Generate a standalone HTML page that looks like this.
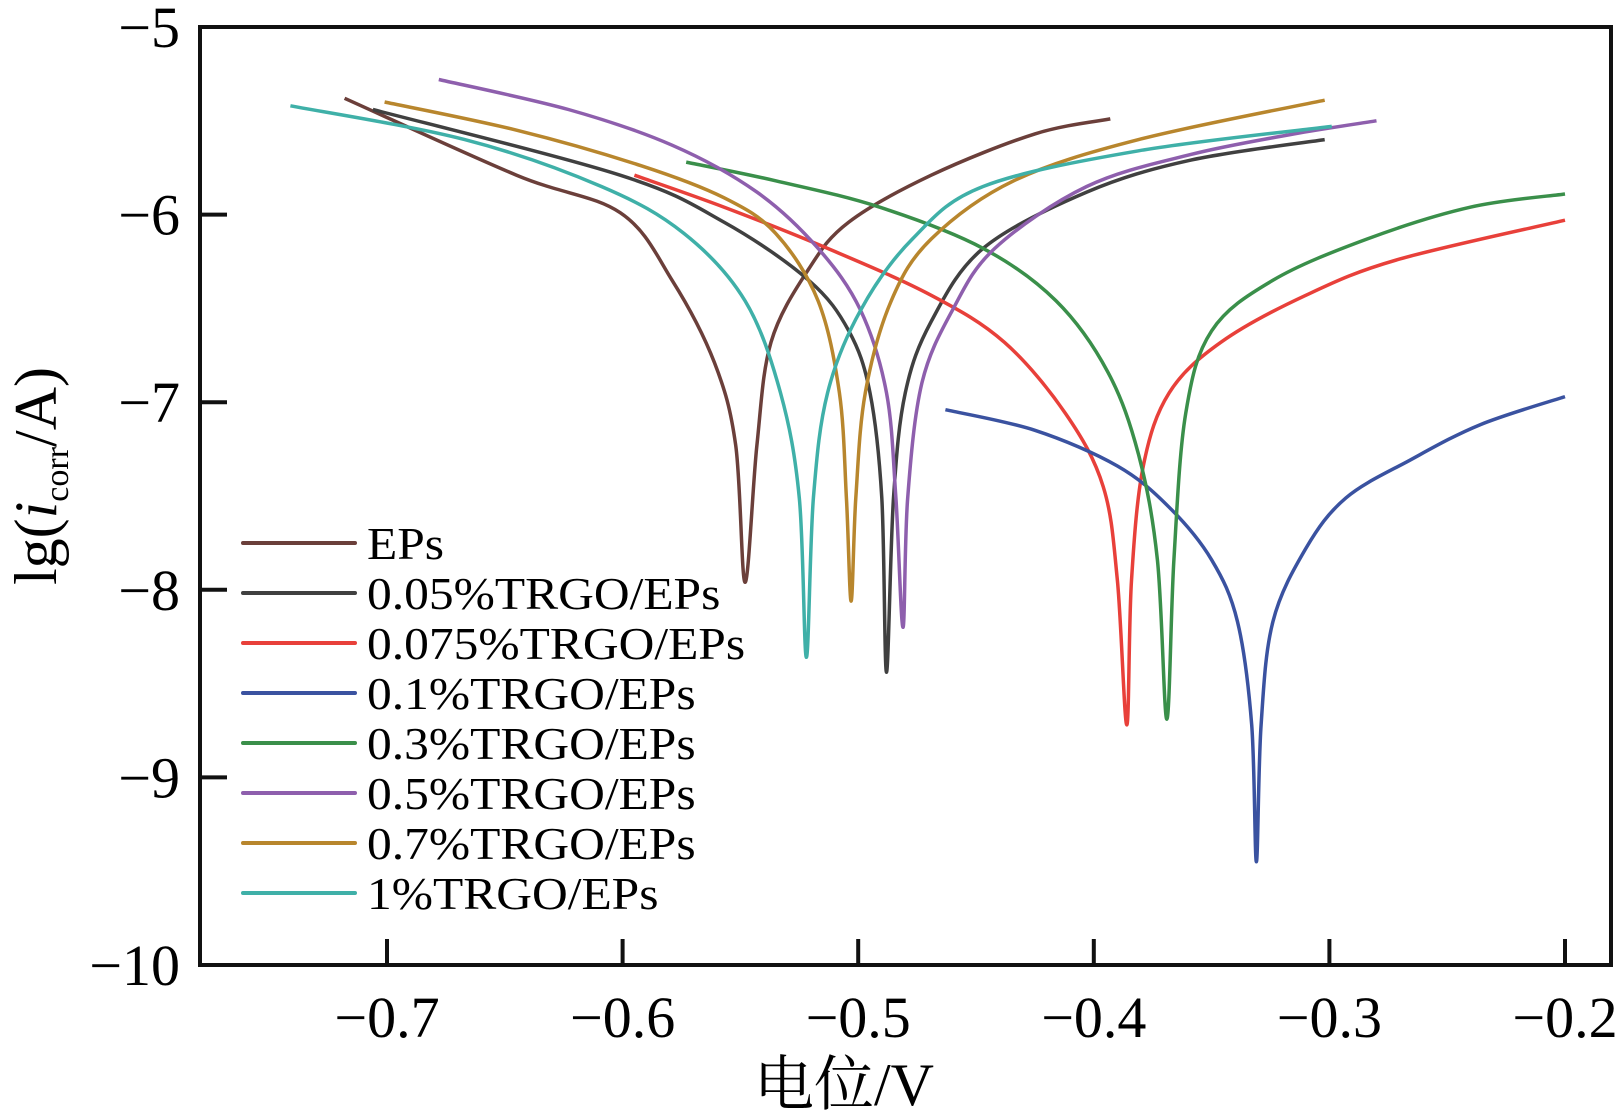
<!DOCTYPE html>
<html><head><meta charset="utf-8"><style>
body{margin:0;background:#fff}
svg{display:block;font-family:"Liberation Serif","Noto Serif CJK SC",serif}
</style></head><body>
<svg id="chart" width="1624" height="1115" viewBox="0 0 1624 1115">
<g id="curves"></g>
<rect x="200" y="27" width="1411" height="938" fill="none" stroke="#111" stroke-width="4"/>
<g id="axes"></g>
<text x="844" y="1105" font-size="60" text-anchor="middle">电位/V</text>
<text transform="translate(56,476) rotate(-90)" font-size="60" text-anchor="middle">lg(<tspan font-style="italic">i</tspan><tspan font-size="34" dy="12">corr</tspan><tspan dy="-12">/A)</tspan></text>
<g id="legend"></g>
</svg>
<script>
const xTicks=[-0.7,-0.6,-0.5,-0.4,-0.3,-0.2];
const yTicks=[-5,-6,-7,-8,-9,-10];
const seriesNames=["EPs","0.05%TRGO/EPs","0.075%TRGO/EPs","0.1%TRGO/EPs","0.3%TRGO/EPs","0.5%TRGO/EPs","0.7%TRGO/EPs","1%TRGO/EPs"];
const seriesColors=["#6b3f3a","#404040","#e8403a","#3a52a0","#3a8f4a","#8e5fad","#b8862d","#3fb0a8"];
const epsE=[-0.718,-0.645,-0.601,-0.579,-0.561,-0.552,-0.548,-0.543,-0.537,-0.521,-0.504,-0.469,-0.425,-0.393];
const epsL=[-5.38,-5.79,-5.99,-6.35,-6.79,-7.23,-7.96,-7.23,-6.68,-6.29,-6.04,-5.79,-5.57,-5.49];
const s005E=[-0.706,-0.601,-0.557,-0.521,-0.504,-0.495,-0.490,-0.488,-0.485,-0.480,-0.469,-0.447,-0.403,-0.359,-0.302];
const s005L=[-5.44,-5.79,-6.04,-6.35,-6.62,-6.95,-7.51,-8.44,-7.51,-6.95,-6.57,-6.18,-5.88,-5.71,-5.60];
const s0075E=[-0.595,-0.557,-0.513,-0.469,-0.438,-0.412,-0.396,-0.390,-0.386,-0.384,-0.379,-0.368,-0.346,-0.310,-0.271,-0.200];
const s0075L=[-5.79,-5.96,-6.18,-6.43,-6.68,-7.06,-7.45,-7.95,-8.72,-7.95,-7.34,-6.95,-6.68,-6.43,-6.24,-6.03];
const s01E=[-0.463,-0.425,-0.390,-0.368,-0.350,-0.339,-0.333,-0.331,-0.329,-0.324,-0.310,-0.293,-0.266,-0.236,-0.200];
const s01L=[-7.04,-7.15,-7.34,-7.56,-7.84,-8.17,-8.72,-9.45,-8.72,-8.17,-7.78,-7.51,-7.31,-7.12,-6.97];
const s03E=[-0.573,-0.535,-0.491,-0.447,-0.416,-0.394,-0.381,-0.373,-0.369,-0.366,-0.361,-0.350,-0.324,-0.284,-0.240,-0.200];
const s03L=[-5.72,-5.82,-5.96,-6.18,-6.46,-6.84,-7.28,-7.84,-8.69,-7.84,-7.06,-6.62,-6.35,-6.13,-5.96,-5.89];
const s05E=[-0.678,-0.623,-0.579,-0.543,-0.517,-0.499,-0.488,-0.484,-0.481,-0.479,-0.473,-0.460,-0.442,-0.403,-0.359,-0.315,-0.280];
const s05L=[-5.28,-5.44,-5.63,-5.88,-6.18,-6.51,-6.95,-7.51,-8.20,-7.51,-6.90,-6.51,-6.18,-5.85,-5.68,-5.57,-5.50];
const s07E=[-0.701,-0.645,-0.592,-0.557,-0.535,-0.517,-0.508,-0.505,-0.503,-0.501,-0.497,-0.486,-0.469,-0.434,-0.381,-0.302];
const s07L=[-5.40,-5.55,-5.74,-5.91,-6.10,-6.46,-6.95,-7.51,-8.06,-7.51,-6.95,-6.46,-6.13,-5.82,-5.60,-5.39];
const s1E=[-0.741,-0.667,-0.609,-0.574,-0.548,-0.533,-0.525,-0.522,-0.519,-0.513,-0.499,-0.477,-0.447,-0.381,-0.299];
const s1L=[-5.42,-5.60,-5.85,-6.10,-6.46,-6.95,-7.51,-8.36,-7.51,-6.95,-6.51,-6.13,-5.85,-5.66,-5.53];
const seriesE=[epsE,s005E,s0075E,s01E,s03E,s05E,s07E,s1E];
const seriesL=[epsL,s005L,s0075L,s01L,s03L,s05L,s07L,s1L];

const NS="http://www.w3.org/2000/svg";
function xs(v){return 387+(v+0.7)*2356;}
function ys(v){return 27+(-5-v)*187.6;}
function mk(tag,attrs,parent){const e=document.createElementNS(NS,tag);for(const k in attrs)e.setAttribute(k,attrs[k]);parent.appendChild(e);return e;}
const axes=document.getElementById('axes');
xTicks.forEach(t=>{
  const l=mk('line',{x1:xs(t),x2:xs(t),y1:965,y2:939,stroke:'#111','stroke-width':4},axes);
  
  
  const tx=mk('text',{x:xs(t),y:1037,'font-size':58,'text-anchor':'middle'},axes);
  tx.textContent='\u2212'+Math.abs(t).toString();
  
  
});
yTicks.forEach(t=>{
  const l=mk('line',{x1:200,x2:227,y1:ys(t),y2:ys(t),stroke:'#111','stroke-width':4},axes);
  
  
  const tx=mk('text',{x:180,y:ys(t)+20,'font-size':58,'text-anchor':'end'},axes);
  tx.textContent='\u2212'+Math.abs(t);
  
  
});
function smoothPath(P){
  let d='M'+P[0][0].toFixed(1)+','+P[0][1].toFixed(1);
  for(let i=0;i<P.length-1;i++){
    const p0=P[Math.max(0,i-1)],p1=P[i],p2=P[i+1],p3=P[Math.min(P.length-1,i+2)];
    const c1=[p1[0]+(p2[0]-p0[0])/6,p1[1]+(p2[1]-p0[1])/6];
    const c2=[p2[0]-(p3[0]-p1[0])/6,p2[1]-(p3[1]-p1[1])/6];
    d+='C'+c1[0].toFixed(1)+','+c1[1].toFixed(1)+' '+c2[0].toFixed(1)+','+c2[1].toFixed(1)+' '+p2[0].toFixed(1)+','+p2[1].toFixed(1);
  }
  return d;
}
const curves=document.getElementById('curves');
const legend=document.getElementById('legend');
seriesNames.forEach((n,i)=>{
  const P=seriesE[i].map((e,j)=>[xs(e),ys(seriesL[i][j])]);
  const p=mk('path',{d:smoothPath(P),fill:'none',stroke:seriesColors[i],'stroke-width':3.5,'stroke-linejoin':'round'},curves);
  
  
  const y=543+i*50;
  const l=mk('line',{x1:243,x2:355,y1:y,y2:y,stroke:seriesColors[i],'stroke-width':4,'stroke-linecap':'round'},legend);
  
  
  const t=mk('text',{x:0,y:0,'font-size':45,transform:'translate(367,'+(y+16)+') scale(1.1,1)'},legend);
  t.textContent=n;
  
  
});
</script>
</body></html>
